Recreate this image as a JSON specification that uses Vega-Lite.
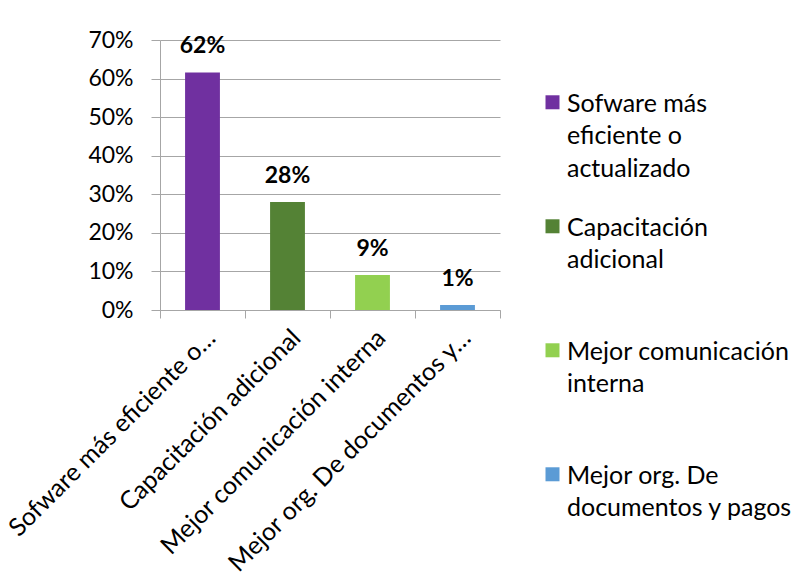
{
  "$schema": "https://vega.github.io/schema/vega-lite/v6.json",
  "width": 340,
  "height": 270,
  "autosize": "none",
  "padding": {"left": 160, "top": 40, "right": 305, "bottom": 269},
  "background": "white",
  "data": {
    "values": [
      {"cat": "Sofware más eficiente o actualizado", "v": 0.616},
      {"cat": "Capacitación adicional", "v": 0.28},
      {"cat": "Mejor comunicación interna", "v": 0.091},
      {"cat": "Mejor org. De documentos y pagos", "v": 0.013}
    ]
  },
  "encoding": {
    "x": {
      "field": "cat",
      "type": "nominal",
      "sort": null,
      "scale": {"paddingInner": 0, "paddingOuter": 0},
      "axis": {
        "title": null,
        "grid": false,
        "tickBand": "extent",
        "tickSize": 8,
        "labelAngle": -45,
        "labelAlign": "right",
        "labelBaseline": "top",
        "labelPadding": 7,
        "labelLimit": 500,
        "labelFontSize": 25,
        "labelExpr": "datum.value == 'Sofware más eficiente o actualizado' ? 'Sofware más eficiente o…' : datum.value == 'Mejor org. De documentos y pagos' ? 'Mejor org. De documentos y…' : datum.value"
      }
    },
    "y": {
      "field": "v",
      "type": "quantitative",
      "scale": {"domain": [0, 0.7], "nice": false},
      "axis": {
        "title": null,
        "values": [0, 0.1, 0.2, 0.3, 0.4, 0.5, 0.6, 0.7],
        "format": ".0%",
        "tickSize": 9,
        "labelPadding": 18,
        "labelFontSize": 23,
        "grid": true
      }
    }
  },
  "layer": [
    {
      "mark": {"type": "bar", "width": {"band": 0.41}},
      "encoding": {
        "color": {
          "field": "cat",
          "type": "nominal",
          "sort": null,
          "scale": {
            "domain": ["Sofware más eficiente o actualizado", "Capacitación adicional", "Mejor comunicación interna", "Mejor org. De documentos y pagos"],
            "range": ["#7030A0", "#548235", "#92D050", "#5B9BD5"]
          },
          "legend": {
            "title": null,
            "orient": "none",
            "legendX": 380,
            "legendY": 39,
            "padding": 0,
            "symbolType": "M-1,0.54H1V2.54H-1Z",
            "symbolSize": 196,
            "symbolStrokeWidth": 0,
            "labelFont": "Lato",
            "labelFontSize": 25,
            "labelColor": "#000000",
            "labelBaseline": "top",
            "labelOffset": 2,
            "labelLimit": 400,
            "rowPadding": 21,
            "labelExpr": "datum.value == 'Sofware más eficiente o actualizado' ? ['Sofware más','eficiente o','actualizado'] : datum.value == 'Capacitación adicional' ? ['Capacitación','adicional',''] : datum.value == 'Mejor comunicación interna' ? ['Mejor comunicación','interna',''] : ['Mejor org. De','documentos y pagos','']"
          }
        }
      }
    },
    {
      "mark": {"type": "text", "font": "Lato", "fontSize": 23, "fontWeight": "bold", "baseline": "alphabetic", "dy": -19, "color": "#000000"},
      "encoding": {
        "text": {"field": "v", "type": "quantitative", "format": ".0%"}
      }
    }
  ],
  "config": {
    "view": {"stroke": null},
    "axis": {
      "labelFont": "Lato",
      "labelFontSize": 22,
      "labelColor": "#000000",
      "domainColor": "#A6A6A6",
      "tickColor": "#A6A6A6",
      "gridColor": "#A6A6A6",
      "domainWidth": 1,
      "gridWidth": 1
    },
    "style": {"guide-label": {"lineHeight": 32.5}}
  }
}
